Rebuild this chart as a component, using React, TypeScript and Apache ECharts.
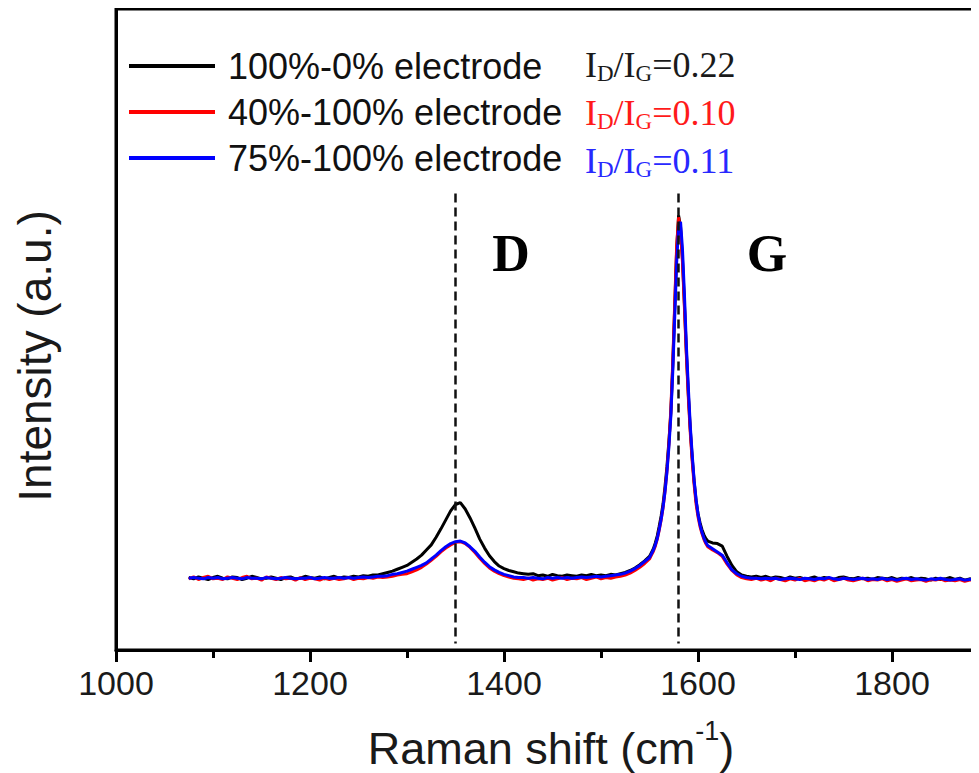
import React, { useEffect, useRef } from "react";
import * as echarts from "echarts";

const seriesNames = ["100%-0% electrode", "40%-100% electrode", "75%-100% electrode"];
const seriesColors = ["#000000", "#ff0000", "#0000ff"];
const ratioLabels = ["0.22", "0.10", "0.11"];
const ratioColors = ["#1a1a1a", "#ff1a1a", "#2828ff"];
const xTicks = { min: 1000, max: 2000, interval: 200 };
const peakPositions = [1350, 1580];
const peakLetters = ["D", "G"];

const wavenumbers = [
  1075, 1080, 1085, 1090, 1095, 1100, 1105, 1110, 1115, 1120,
  1125, 1130, 1135, 1140, 1145, 1150, 1155, 1160, 1165, 1170,
  1175, 1180, 1185, 1190, 1195, 1200, 1205, 1210, 1215, 1220,
  1225, 1230, 1235, 1240, 1245, 1250, 1255, 1260, 1265, 1270,
  1275, 1280, 1285, 1290, 1295, 1300, 1305, 1310, 1315, 1320,
  1325, 1330, 1335, 1340, 1345, 1350, 1355, 1360, 1365, 1370,
  1375, 1380, 1385, 1390, 1395, 1400, 1405, 1410, 1415, 1420,
  1425, 1430, 1435, 1440, 1445, 1450, 1455, 1460, 1465, 1470,
  1475, 1480, 1485, 1490, 1495, 1500, 1505, 1510, 1515, 1520,
  1525, 1530, 1535, 1540, 1545, 1550,
  1552, 1554, 1556, 1558, 1560, 1562, 1564, 1566, 1568, 1570,
  1572, 1574, 1576, 1578, 1580, 1582, 1584, 1586, 1588, 1590,
  1592, 1594, 1596, 1598, 1600, 1602, 1604, 1606, 1608, 1610,
  1615, 1620, 1625, 1630, 1635, 1640, 1645, 1650, 1655, 1660,
  1665, 1670, 1675, 1680, 1685, 1690, 1695, 1700, 1705, 1710,
  1715, 1720, 1725, 1730, 1735, 1740, 1745, 1750, 1755, 1760,
  1765, 1770, 1775, 1780, 1785, 1790, 1795, 1800, 1805, 1810,
  1815, 1820, 1825, 1830, 1835, 1840, 1845, 1850, 1855, 1860,
  1865, 1870, 1875, 1880, 1885, 1890, 1895, 1900, 1905, 1910,
  1915, 1920, 1925, 1930, 1935, 1940, 1945, 1950, 1955, 1960,
];

const intensity100_0 = [
  11.3, 11.1, 11.4, 11.2, 11.0, 11.3, 11.5, 11.2, 11.1, 11.4,
  11.3, 11.0, 11.2, 11.5, 11.3, 11.1, 11.2, 11.4, 11.2, 11.0,
  11.3, 11.4, 11.1, 11.2, 11.5, 11.3, 11.2, 11.4, 11.1, 11.3,
  11.5, 11.2, 11.4, 11.3, 11.5, 11.4, 11.6, 11.5, 11.7, 11.7,
  11.9, 12.1, 12.3, 12.6, 12.9, 13.2, 13.7, 14.2, 14.8, 15.6,
  16.4, 17.6, 18.9, 20.3, 21.7, 22.7, 23.0, 22.0, 20.6, 19.0,
  17.3, 15.9, 14.7, 13.8, 13.1, 12.7, 12.4, 12.2, 12.0, 11.9,
  11.8, 11.9, 11.6, 11.7, 11.5, 11.8, 11.6, 11.5, 11.7, 11.6,
  11.5, 11.7, 11.6, 11.8, 11.6, 11.7, 11.6, 11.8, 11.7, 11.9,
  12.1, 12.4, 12.8, 13.3, 13.9, 14.6,
  15.2, 15.8, 16.7, 17.8, 19.3, 20.9, 22.8, 25.5, 28.6, 32.5,
  37.0, 44.5, 53.5, 62.5, 67.8, 66.0, 61.0, 54.0, 46.5, 40.0,
  34.5, 30.0, 26.3, 23.3, 21.3, 19.9, 18.8, 18.0, 17.4, 17.0,
  16.7, 16.6, 16.2, 14.6, 13.2, 12.2, 11.7, 11.5, 11.4, 11.5,
  11.3, 11.5, 11.2, 11.4, 11.3, 11.1, 11.4, 11.2, 11.3, 11.1,
  11.2, 11.4, 11.1, 11.3, 11.2, 11.0, 11.3, 11.4, 11.2, 11.1,
  11.3, 11.1, 11.2, 11.0, 11.3, 11.2, 11.1, 11.3, 11.0, 11.2,
  11.1, 11.3, 11.0, 11.2, 11.1, 10.9, 11.2, 11.0, 11.1, 11.3,
  11.0, 11.2, 10.9, 11.1, 11.0, 11.2, 10.9, 11.1, 11.0, 10.9,
  11.1, 10.9, 11.0, 11.2, 10.9, 11.0, 11.1, 10.9, 11.0, 11.1,
];

const intensity40_100 = [
  11.1, 11.4, 11.0, 11.3, 11.5, 11.1, 11.2, 11.0, 11.4, 11.2,
  11.0, 11.3, 11.5, 11.1, 11.2, 10.9, 11.4, 11.2, 11.0, 11.3,
  11.1, 11.2, 10.9, 11.3, 11.0, 11.2, 11.1, 10.9, 11.2, 11.0,
  11.2, 11.0, 11.1, 11.3, 11.0, 11.2, 11.1, 11.3, 11.2, 11.4,
  11.3, 11.4, 11.5, 11.7, 11.8, 11.9, 12.2, 12.5, 12.9, 13.4,
  14.0, 14.6, 15.3, 15.9, 16.4, 16.8, 16.9, 16.6, 16.0, 15.2,
  14.3, 13.5, 12.8, 12.3, 11.9, 11.6, 11.4, 11.2, 11.1, 11.0,
  11.2, 10.9, 11.1, 11.0, 11.2, 10.9, 11.1, 11.3, 11.0, 11.2,
  11.1, 11.3, 11.0, 11.2, 11.4, 11.1, 11.3, 11.2, 11.4, 11.5,
  11.7, 12.0, 12.4, 12.9, 13.5, 14.2,
  14.8, 15.4, 16.2, 17.3, 18.7, 20.3, 22.2, 24.8, 28.0, 32.2,
  37.5, 45.0, 54.0, 63.0, 67.5, 65.5, 60.5, 53.5, 46.0, 39.5,
  34.0, 29.5, 25.8, 22.8, 20.8, 19.3, 18.2, 17.3, 16.6, 16.1,
  15.6, 15.2, 14.6, 13.4, 12.4, 11.7, 11.3, 11.1, 11.0, 11.2,
  10.9, 11.1, 10.8, 11.2, 11.0, 10.8, 11.1, 10.9, 11.2, 10.8,
  11.0, 10.8, 11.1, 10.9, 11.2, 10.8, 11.0, 11.2, 10.9, 10.8,
  11.0, 11.2, 10.8, 11.0, 10.9, 11.1, 10.8, 11.0, 10.7, 10.9,
  11.1, 10.8, 10.9, 11.0, 10.7, 11.0, 10.9, 11.1, 10.8, 10.9,
  10.8, 11.0, 10.7, 10.9, 11.0, 10.8, 10.7, 10.9, 11.0, 10.8,
  10.9, 10.7, 10.9, 10.8, 11.0, 10.7, 10.9, 10.8, 10.6, 10.9,
];

const intensity75_100 = [
  11.2, 11.3, 11.2, 11.1, 11.3, 11.2, 11.3, 11.1, 11.2, 11.3,
  11.2, 11.1, 11.3, 11.2, 11.2, 11.1, 11.3, 11.2, 11.1, 11.2,
  11.3, 11.2, 11.1, 11.2, 11.2, 11.3, 11.1, 11.2, 11.3, 11.2,
  11.2, 11.3, 11.2, 11.3, 11.2, 11.3, 11.4, 11.3, 11.4, 11.5,
  11.5, 11.6, 11.8, 11.9, 12.1, 12.3, 12.6, 12.9, 13.2, 13.6,
  14.2, 14.8, 15.5, 16.1, 16.6, 16.9, 17.0, 16.7, 16.1, 15.4,
  14.5, 13.7, 13.0, 12.5, 12.1, 11.8, 11.6, 11.4, 11.3, 11.3,
  11.2, 11.3, 11.2, 11.1, 11.3, 11.2, 11.3, 11.2, 11.3, 11.2,
  11.3, 11.4, 11.3, 11.4, 11.5, 11.4, 11.5, 11.6, 11.7, 11.8,
  12.0, 12.3, 12.7, 13.2, 13.8, 14.4,
  15.0, 15.6, 16.4, 17.4, 18.8, 20.4, 22.3, 24.7, 27.8, 31.7,
  36.5, 43.5, 52.0, 60.5, 66.0, 66.8, 62.5, 55.5, 47.5, 41.0,
  35.0, 30.5, 26.5, 23.5, 21.2, 19.6, 18.4, 17.5, 16.8, 16.3,
  15.8, 15.3, 14.8, 13.6, 12.5, 11.9, 11.5, 11.3, 11.2, 11.2,
  11.1, 11.2, 11.1, 11.2, 11.0, 11.1, 11.2, 11.1, 11.0, 11.2,
  11.1, 11.0, 11.2, 11.1, 11.3, 11.1, 11.0, 11.2, 11.1, 11.0,
  11.1, 11.2, 11.0, 11.1, 11.0, 11.2, 11.0, 11.1, 10.9, 11.1,
  11.2, 11.0, 11.1, 11.0, 10.9, 11.1, 11.0, 11.2, 11.0, 10.9,
  11.0, 11.1, 10.9, 11.0, 11.1, 11.0, 10.9, 11.0, 11.1, 11.0,
  11.0, 10.9, 11.0, 11.1, 10.9, 11.0, 11.0, 10.9, 11.0, 11.1,
];

const allIntensities = [intensity100_0, intensity40_100, intensity75_100];

const SANS = "Liberation Sans";
const SERIF = "Liberation Serif";

export default function App() {
  const ref = useRef<HTMLDivElement>(null);

  useEffect(() => {
    if (!ref.current) return;
    const chart = echarts.init(ref.current, null, { renderer: "svg" });

    const series: any[] = allIntensities.map((ys, k) => ({
      name: seriesNames[k],
      type: "line",
      data: wavenumbers.map((x, i) => [x, ys[i]]),
      showSymbol: false,
      symbol: "none",
      color: seriesColors[k],
      lineStyle: { color: seriesColors[k], width: 3 },
      z: 2 + k,
    }));
    series[2].markLine = {
      silent: true,
      symbol: ["none", "none"],
      label: { show: false },
      lineStyle: { color: "#111", width: 2.5, type: [9, 5] },
      data: peakPositions.map((p) => [{ coord: [p, 71.2] }, { coord: [p, 1] }]),
    };

    const ratioTexts = ratioLabels.map((r, k) => ({
      type: "text",
      x: 577,
      y: [39, 87, 135][k],
      style: {
        text: `{a|I}{s|D}{a|/I}{s|G}{a|=${r}}`,
        fill: ratioColors[k],
        verticalAlign: "top",
        align: "left",
        rich: {
          a: { fontFamily: SERIF, fontSize: 36, fill: ratioColors[k], verticalAlign: "top" },
          s: { fontFamily: SERIF, fontSize: 23, fill: ratioColors[k], verticalAlign: "top", padding: [15, 0, 0, 0] },
        },
      },
    }));

    const letterTexts = peakLetters.map((L, k) => ({
      type: "text",
      x: [503, 759][k],
      y: 245,
      style: {
        text: L,
        font: `bold 52px "${SERIF}"`,
        fill: "#000",
        align: "center",
        verticalAlign: "middle",
      },
    }));

    chart.setOption({
      animation: false,
      backgroundColor: "#fff",
      grid: {
        left: 108,
        top: 1,
        right: 0,
        bottom: 123,
        show: true,
        borderColor: "#000",
        borderWidth: 3,
        containLabel: false,
        outerBoundsMode: "none",
      },
      legend: {
        orient: "vertical",
        left: 121,
        top: 40,
        padding: 0,
        icon: "rect",
        itemWidth: 86,
        itemHeight: 4,
        itemGap: 10,
        selectedMode: false,
        textStyle: { fontFamily: SANS, fontSize: 36, color: "#111", padding: [0, 0, 0, 8] },
        data: seriesNames,
      },
      xAxis: {
        type: "value",
        min: xTicks.min,
        max: xTicks.max,
        interval: xTicks.interval,
        axisLine: { show: true, lineStyle: { color: "#000", width: 3 } },
        axisTick: { show: true, inside: false, length: 12, lineStyle: { color: "#000", width: 3 } },
        minorTick: { show: true, splitNumber: 2, length: 8, lineStyle: { color: "#000", width: 3 } },
        axisLabel: {
          fontFamily: SANS,
          fontSize: 34,
          color: "#1a1a1a",
          margin: 16,
          showMaxLabel: false,
          formatter: (v: number) => String(v),
        },
        splitLine: { show: false },
      },
      yAxis: {
        type: "value",
        min: 0,
        max: 100,
        axisLine: { show: true, lineStyle: { color: "#000", width: 3 } },
        axisTick: { show: false },
        axisLabel: { show: false },
        splitLine: { show: false },
      },
      graphic: [
        {
          type: "text",
          x: 27,
          y: 348,
          rotation: Math.PI / 2,
          style: {
            text: "Intensity (a.u.)",
            font: `46px "${SANS}"`,
            fill: "#1a1a1a",
            align: "center",
            verticalAlign: "middle",
          },
        },
        {
          type: "text",
          x: 543,
          y: 736,
          style: {
            text: "{a|Raman shift (cm}{p|-1}{a|)}",
            align: "center",
            verticalAlign: "middle",
            fill: "#1a1a1a",
            rich: {
              a: { fontFamily: SANS, fontSize: 45, fill: "#1a1a1a", verticalAlign: "top", padding: [8, 0, 0, 0] },
              p: { fontFamily: SANS, fontSize: 27, fill: "#1a1a1a", verticalAlign: "top" },
            },
          },
        },
        ...ratioTexts,
        ...letterTexts,
      ],
      series,
    });

    return () => chart.dispose();
  }, []);

  return (
    <div style={{ width: 971, height: 765, overflow: "hidden" }}>
      <div ref={ref} style={{ width: 1078, height: 765 }} />
    </div>
  );
}
